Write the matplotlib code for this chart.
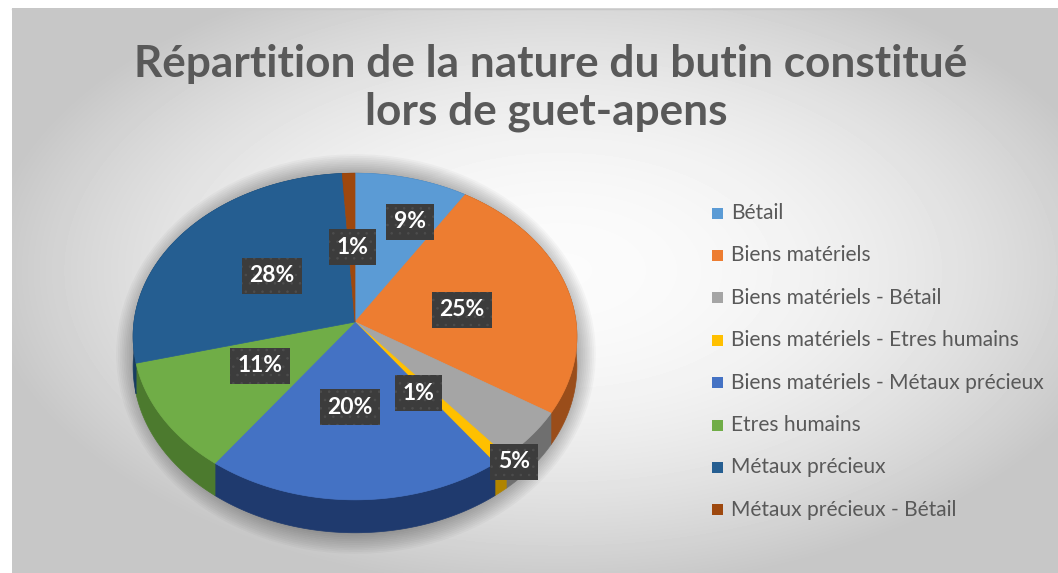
import numpy as np
import matplotlib
matplotlib.use("Agg")
import matplotlib.pyplot as plt
from matplotlib.patches import Polygon, Rectangle, Ellipse

TITLE = ["Répartition de la nature du butin constitué", "lors de guet-apens"]
CATEGORIES = ["Bétail", "Biens matériels", "Biens matériels - Bétail",
              "Biens matériels - Etres humains", "Biens matériels - Métaux précieux",
              "Etres humains", "Métaux précieux", "Métaux précieux - Bétail"]
SHARES = [9, 25, 5, 1, 20, 11, 28, 1]

TOP = ["#5B9BD5", "#ED7D31", "#A5A5A5", "#FFC000", "#4472C4", "#70AD47", "#255E91", "#9E480E"]
SIDE = ["#3b6fa0", "#9a4d1a", "#6f6f6f", "#b08400", "#1f3a6e", "#4c7a2e", "#173d60", "#6a2f09"]
# label box centres (pixels), as Excel placed them
LABEL_XY = [(410, 222), (462, 310), (514, 462), (418, 393),
            (350, 407), (260, 366), (272, 276), (352, 247)]
FG = "#595959"
FONT = "Lato"

W, H = 1058, 573
fig = plt.figure(figsize=(W / 100, H / 100), dpi=100, facecolor="white")
ax = fig.add_axes([0, 0, 1, 1])
ax.axis("off")

# chart-area radial gradient
yy, xx = np.mgrid[8:H, 12:W]
r2 = ((xx - 560) / 523.0) ** 2 + ((yy - 270) / 290.0) ** 2
bg = np.clip(0.985 - 0.17 * r2, 0.78, 1.0)
ax.imshow(bg, cmap="gray", vmin=0, vmax=1, extent=[12, W, H, 8], aspect="auto",
          interpolation="bilinear", zorder=0)
ax.plot([12, W], [8.5, 8.5], color="#c8c8c8", lw=1, zorder=1)
ax.set_xlim(0, W); ax.set_ylim(H, 0)

# ---- 3D pie (simple perspective on a tilted disc) ----
CX, CY, A, B, P, D = 355, 322, 221, 162, 0.089, 30


def proj(theta, r=1.0, z=0.0):
    u, w = r * np.sin(theta), r * np.cos(theta)
    s = 1.0 / (1.0 + P * w)
    return CX + A * u * s, CY - B * w * s + z * s


# soft shadow under the pie
for k in range(12):
    ax.add_patch(Ellipse((356, 354), 2 * (220 + k * 1.8), 2 * (180 + k * 1.8),
                         color="black", alpha=0.028, lw=0, zorder=2))

vals = np.array(SHARES, dtype=float)
edges = np.concatenate([[0], np.cumsum(vals) / vals.sum() * 2 * np.pi])

for i in range(len(vals)):
    th = np.linspace(edges[i], edges[i + 1], 120)
    xt, yt = proj(th)
    xb, yb = proj(th, z=D)
    wall = np.column_stack([np.concatenate([xt, xb[::-1]]), np.concatenate([yt, yb[::-1]])])
    ax.add_patch(Polygon(wall, closed=True, fc=SIDE[i], ec=SIDE[i], lw=0.5, zorder=3))

for i in range(len(vals)):
    th = np.linspace(edges[i], edges[i + 1], 120)
    xt, yt = proj(th)
    face = np.column_stack([np.concatenate([[CX], xt]), np.concatenate([[CY], yt])])
    ax.add_patch(Polygon(face, closed=True, fc=TOP[i], ec=TOP[i], lw=0.5, zorder=4))

plt.rcParams["hatch.linewidth"] = 0.6
for (lx, ly), v in zip(LABEL_XY, vals):
    ax.text(lx, ly, f"{v / vals.sum() * 100:.0f}%", ha="center", va="center", color="white",
            fontsize=16.5, fontweight="bold", family=FONT, zorder=6,
            bbox=dict(boxstyle="square,pad=0.33", fc="#3c3c3c", ec="#4d4d4d", lw=0, hatch=".."))

# ---- title ----
renderer = fig.canvas.get_renderer()


def fit(t, width):
    w = t.get_window_extent(renderer).width
    t.set_fontsize(t.get_fontsize() * width / w)


t1 = ax.text(551, 77, TITLE[0], ha="center", va="baseline", fontsize=28, fontweight="bold",
             color=FG, family=FONT, zorder=6)
fit(t1, 833)
ax.text(546, 125, TITLE[1], ha="center", va="baseline", fontsize=t1.get_fontsize(),
        fontweight="bold", color=FG, family=FONT, zorder=6)

# ---- legend ----
ltxt = []
for i, name in enumerate(CATEGORIES):
    y = 213 + i * 42.4
    ax.add_patch(Rectangle((712, y - 5.5), 11, 11, fc=TOP[i], lw=0, zorder=6))
    ltxt.append(ax.text(731, y, name, ha="left", va="center", color=FG, fontsize=12,
                        family=FONT, zorder=6))
w = ltxt[4].get_window_extent(renderer).width
for t in ltxt:
    t.set_fontsize(12 * 314 / w)

fig.savefig("out.png", dpi=100, facecolor="white")
